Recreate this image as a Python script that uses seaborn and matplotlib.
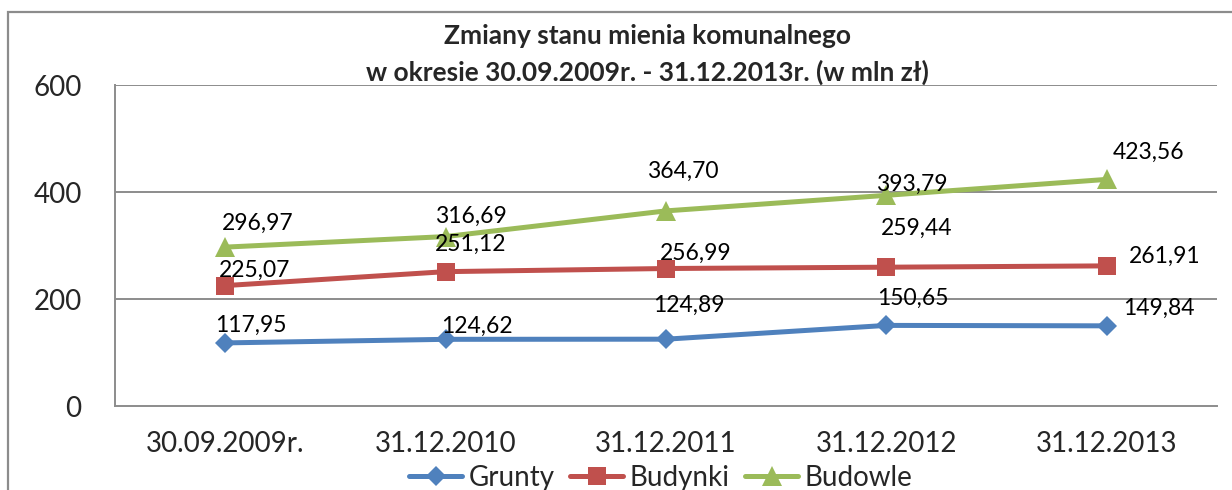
import matplotlib
matplotlib.use("Agg")
import matplotlib.pyplot as plt
from matplotlib.patches import Rectangle
import numpy as np
import pandas as pd
import seaborn as sns

# Data (values in mln zł)
categories = ["30.09.2009r.", "31.12.2010", "31.12.2011", "31.12.2012", "31.12.2013"]
grunty = [117.95, 124.62, 124.89, 150.65, 149.84]
budynki = [225.07, 251.12, 256.99, 259.44, 261.91]
budowle = [296.97, 316.69, 364.70, 393.79, 423.56]
series_names = ["Grunty", "Budynki", "Budowle"]
y_ticks = [0, 200, 400, 600]

colors = {"Grunty": "#4F81BD", "Budynki": "#C0504D", "Budowle": "#9BBB59"}
markers = {"Grunty": "D", "Budynki": "s", "Budowle": "^"}
marker_sizes = {"Grunty": 10, "Budynki": 12.5, "Budowle": 14}

# Label offsets (pixels) from each point to the centre of its value label
label_offsets = {
    "Grunty": [(26, 18), (31, 13), (23, 34), (26, 27), (52, 17)],
    "Budynki": [(29, 15), (25, 27), (30, 15), (30, 39), (58, 10)],
    "Budowle": [(32, 24), (25, 20), (17, 40), (25, 11), (42, 27)],
}

values = {"Grunty": grunty, "Budynki": budynki, "Budowle": budowle}
df = pd.DataFrame(
    [(i, values[s][i], s) for s in series_names for i in range(len(categories))],
    columns=["pos", "value", "series"],
)

sns.set_theme(style="white")
plt.rcParams["font.family"] = ["Lato", "DejaVu Sans"]

fig = plt.figure(figsize=(12.32, 4.90), dpi=100)
ax = fig.add_axes([115 / 1232, 84 / 490, (1217 - 115) / 1232, (406 - 85) / 490])

grid_c = "#8C8C8C"
ax.set_axisbelow(True)
for yv in y_ticks[1:]:
    ax.axhline(yv, color=grid_c, lw=1.4, zorder=0)

for s in series_names:
    sub = df[df["series"] == s]
    sns.lineplot(
        data=sub, x="pos", y="value", ax=ax, color=colors[s], label=s,
        marker=markers[s], markersize=marker_sizes[s], markeredgewidth=0,
        linewidth=3.6, zorder=3,
    )

for s in series_names:
    for i, v in enumerate(values[s]):
        dx, dy = label_offsets[s][i]
        ax.annotate(
            f"{v:.2f}".replace(".", ","), xy=(i, v), xytext=(dx, dy),
            textcoords="offset pixels", ha="center", va="center",
            fontsize=16.5, color="black", zorder=5,
        )

ax.set_xlim(-0.5, len(categories) - 0.5)
ax.set_ylim(0, 600)
ax.set_yticks(y_ticks)
ax.set_yticklabels([str(t) for t in y_ticks])
ax.set_xticks(np.arange(-0.5, len(categories), 1.0))
ax.set_xticklabels([""] * (len(categories) + 1))
ax.set_xticks(np.arange(len(categories)), minor=True)
ax.set_xticklabels(categories, minor=True)
ax.tick_params(axis="x", which="major", length=7, width=1.4, color=grid_c, direction="out")
ax.tick_params(axis="x", which="minor", length=0, pad=18, labelsize=20)
ax.tick_params(axis="y", which="major", length=7, width=1.4, color=grid_c, direction="out",
               pad=17, labelsize=20)
ax.set_xlabel("")
ax.set_ylabel("")

for side in ["top", "right"]:
    ax.spines[side].set_visible(False)
for side in ["left", "bottom"]:
    ax.spines[side].set_color(grid_c)
    ax.spines[side].set_linewidth(1.4)

ax.legend(
    loc="center", bbox_to_anchor=(661 / 1232, 1 - 478 / 490), bbox_transform=fig.transFigure,
    ncol=3, frameon=False, fontsize=20, handlelength=1.9, handletextpad=0.25,
    columnspacing=0.55, borderaxespad=0,
)

fig.text(647 / 1232, 1 - 36 / 490, "Zmiany stanu mienia komunalnego",
         ha="center", va="center", fontsize=19, fontweight="bold")
fig.text(647 / 1232, 1 - 72 / 490, "w okresie 30.09.2009r. - 31.12.2013r. (w mln zł)",
         ha="center", va="center", fontsize=19, fontweight="bold")

# Chart-area border
fig.add_artist(Rectangle((8 / 1232, -0.1), 1.2, 1 - 12 / 490 + 0.1,
                         transform=fig.transFigure, fill=False,
                         edgecolor="#8C8C8C", linewidth=1.6))

fig.savefig("out.png", dpi=100)
